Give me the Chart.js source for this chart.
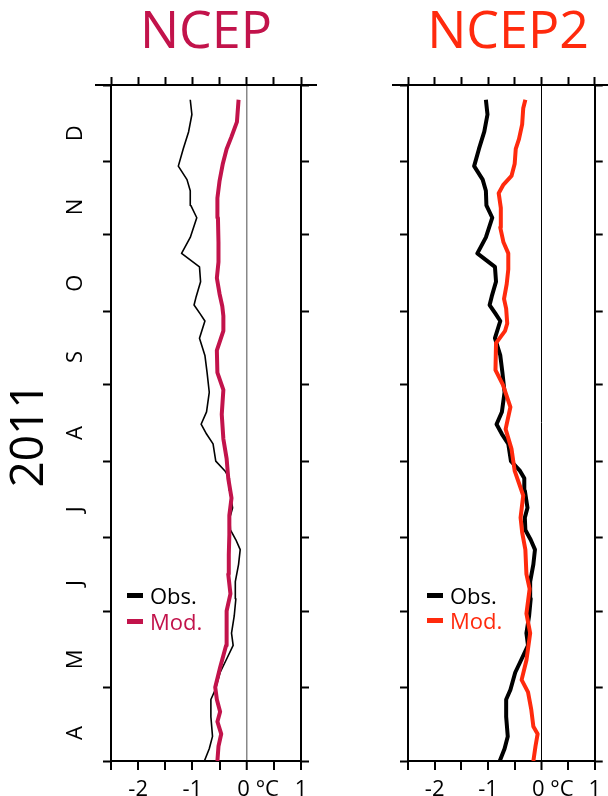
<!DOCTYPE html>
<html>
<head>
<meta charset="utf-8">
<script src="https://cdn.jsdelivr.net/npm/chart.js@4/dist/chart.umd.min.js"></script>
<style>
  html, body { margin: 0; padding: 0; background: #fff; overflow: hidden; }
  body { width: 608px; height: 796px; position: relative; font-family: "Open Sans", sans-serif; }
  .panel { position: absolute; top: 0; height: 796px; }
  #left  { left: 0;     width: 330px; }
  #right { left: 330px; width: 278px; }
  .leg { position: absolute; height: 24px; display: flex; align-items: center; font-size: 22px; }
  .leg i { display: inline-block; width: 16px; height: 5px; margin-right: 7px; }
</style>
</head>
<body>
<div class="panel" id="left"><canvas id="ncep"></canvas></div>
<div class="panel" id="right"><canvas id="ncep2"></canvas></div>

<div class="leg" style="left:127px; top:583px; color:#000"><i style="background:#000"></i>Obs.</div>
<div class="leg" style="left:127px; top:609px; color:#c2134b"><i style="background:#c2134b"></i>Mod.</div>
<div class="leg" style="left:427px; top:583px; color:#000"><i style="background:#000"></i>Obs.</div>
<div class="leg" style="left:427px; top:608px; color:#ff2a0d"><i style="background:#ff2a0d"></i>Mod.</div>

<script>
const FONT = "'Open Sans', sans-serif";

// months Apr..Dec 2011, labels and lengths
const MONTHS = ["A", "M", "J", "J", "A", "S", "O", "N", "D"];
const MONTH_DAYS = [30, 31, 30, 31, 31, 30, 31, 30, 31];
const X_LABELS = { "-2": "-2", "-1": "-1", "0": "    0 °C", "1": "1" };

// observations (day since 1 Apr, anomaly °C)
const OBS_DAY = [0, 5, 10, 18, 25, 29, 36, 41.5, 47, 52, 59, 66, 73, 80, 86, 90, 94, 99, 103, 110,
  115, 118, 122, 129, 133, 137, 142, 150, 158, 165, 172, 179, 182, 185.5, 189, 195, 201, 206.5,
  213, 221, 226, 232, 236.5, 242, 249, 256, 263, 269];
const OBS_VAL = [-0.78, -0.69, -0.63, -0.66, -0.66, -0.58, -0.49, -0.37, -0.25, -0.28, -0.23, -0.20,
  -0.21, -0.15, -0.12, -0.20, -0.30, -0.31, -0.26, -0.31, -0.32, -0.40, -0.57, -0.62, -0.74, -0.84,
  -0.74, -0.69, -0.73, -0.77, -0.87, -0.77, -0.86, -0.97, -0.93, -0.85, -0.87, -1.20, -1.04, -0.92,
  -1.03, -1.04, -1.10, -1.26, -1.17, -1.07, -1.01, -1.04];

// model forced by NCEP
const NCEP_DAY = [0, 6, 11, 16, 20, 25, 30, 38, 47, 54, 61, 68, 76, 84, 92, 100, 107, 115, 123, 131,
  141, 151, 158, 167, 175, 181, 185, 190, 196.5, 203, 211, 221, 229, 236, 243, 249, 254, 260, 269];
const NCEP_VAL = [-0.54, -0.52, -0.47, -0.54, -0.49, -0.55, -0.58, -0.49, -0.38, -0.37, -0.37, -0.30,
  -0.34, -0.33, -0.32, -0.32, -0.28, -0.34, -0.37, -0.43, -0.46, -0.43, -0.54, -0.55, -0.43, -0.43,
  -0.45, -0.50, -0.55, -0.52, -0.52, -0.53, -0.54, -0.50, -0.44, -0.37, -0.28, -0.18, -0.15];

// model forced by NCEP2
const NCEP2_DAY = [0, 6, 11, 14, 21, 28, 33, 41, 52, 60, 70, 76, 86, 93, 99, 108, 118, 127, 135, 144,
  153, 159, 170, 175, 178, 184, 188, 194, 200, 206.5, 211, 217, 225, 231, 234.5, 238, 243, 249, 253,
  259, 265.5, 269];
const NCEP2_VAL = [-0.15, -0.11, -0.07, -0.15, -0.19, -0.25, -0.37, -0.28, -0.21, -0.28, -0.22, -0.28,
  -0.30, -0.36, -0.39, -0.34, -0.50, -0.56, -0.67, -0.58, -0.72, -0.86, -0.85, -0.68, -0.64, -0.66,
  -0.70, -0.65, -0.62, -0.62, -0.71, -0.77, -0.76, -0.80, -0.71, -0.56, -0.50, -0.48, -0.42, -0.36,
  -0.34, -0.30];

const BOUNDS = MONTH_DAYS.reduce((acc, n) => acc.concat(acc[acc.length - 1] + n), [0]);
const END = BOUNDS[BOUNDS.length - 1];

const pts = (days, vals) => days.map((d, i) => ({ x: vals[i], y: d }));

// the top rule runs a bit past the box on both sides
const topRule = {
  id: "topRule",
  afterDraw(chart) {
    const { ctx, chartArea: a } = chart;
    ctx.save();
    ctx.strokeStyle = "#000";
    ctx.lineWidth = 2;
    ctx.beginPath();
    ctx.moveTo(a.left - 16, a.top);
    ctx.lineTo(a.right + 16, a.top);
    ctx.stroke();
    ctx.restore();
  }
};

function makePanel(id, opt) {
  const tickGrid = { drawOnChartArea: false, tickLength: 8, tickWidth: 2, tickColor: "#000" };
  const border = { display: true, color: "#000", width: 2 };
  const monthTicks = s => { s.ticks = BOUNDS.map(v => ({ value: v })); };

  return new Chart(document.getElementById(id), {
    type: "line",
    data: {
      datasets: [
        { label: "Obs.", data: pts(OBS_DAY, OBS_VAL), borderColor: "#000", borderWidth: opt.obsWidth,
          pointRadius: 0, borderJoinStyle: "round", order: 2 },
        { label: "Mod.", data: pts(opt.modDay, opt.modVal), borderColor: opt.color, borderWidth: 4,
          pointRadius: 0, borderJoinStyle: "round", order: 1 }
      ]
    },
    options: {
      responsive: true,
      maintainAspectRatio: false,
      animation: false,
      indexAxis: "y",
      layout: { padding: 0 },
      plugins: {
        legend: { display: false },
        tooltip: { enabled: false },
        title: {
          display: true, text: opt.title, color: opt.color, fullSize: false,
          font: { family: FONT, size: 52, weight: "normal" }, padding: { top: 2, bottom: 0 }
        }
      },
      scales: {
        x: {
          type: "linear", position: "bottom", min: -2.5, max: 1,
          border,
          grid: {
            drawOnChartArea: true, tickLength: 9, tickWidth: 2, tickColor: "#000",
            color: c => (c.tick && c.tick.value === 0 ? opt.zeroColor : "rgba(0,0,0,0)"),
            lineWidth: c => (c.tick && c.tick.value === 0 ? opt.zeroWidth : 0)
          },
          ticks: {
            stepSize: 0.5, autoSkip: false, maxRotation: 0, padding: 7, color: "#000",
            font: { family: FONT, size: 22 },
            callback: v => X_LABELS[String(Math.round(v * 2) / 2)] || ""
          },
          afterFit: s => { s.height = 35; }
        },
        xt: {
          type: "linear", position: "top", min: -2.5, max: 1,
          border, grid: tickGrid,
          ticks: { stepSize: 0.5, display: false },
          afterFit: s => { s.height = 85 - 2 - 52 * 1.2; }
        },
        y: {
          type: "linear", position: "left", min: 0, max: END,
          border, grid: tickGrid,
          afterBuildTicks: monthTicks,
          ticks: {
            display: opt.showMonths, autoSkip: false, minRotation: 90, maxRotation: 90,
            labelOffset: -28, crossAlign: "center", padding: 17, color: "#000",
            font: { family: FONT, size: 22 },
            callback: (v, i) => MONTHS[i] || ""
          },
          title: {
            display: opt.showMonths, text: "2011  ", color: "#000",
            font: { family: FONT, size: 46 }, padding: { top: 2, bottom: 0 }
          },
          afterFit: s => { s.width = opt.left; }
        },
        yr: {
          type: "linear", position: "right", min: 0, max: END,
          border, grid: tickGrid,
          afterBuildTicks: monthTicks,
          ticks: { display: false },
          afterFit: s => { s.width = opt.right; }
        }
      }
    },
    plugins: [topRule]
  });
}

makePanel("ncep", {
  title: "NCEP", color: "#c2134b", modDay: NCEP_DAY, modVal: NCEP_VAL,
  obsWidth: 1.6, zeroColor: "#888", zeroWidth: 1.5, showMonths: true, left: 111, right: 29
});
makePanel("ncep2", {
  title: " NCEP2", color: "#ff2a0d", modDay: NCEP2_DAY, modVal: NCEP2_VAL,
  obsWidth: 4, zeroColor: "#000", zeroWidth: 1, showMonths: false, left: 78, right: 10
});
</script>
</body>
</html>
